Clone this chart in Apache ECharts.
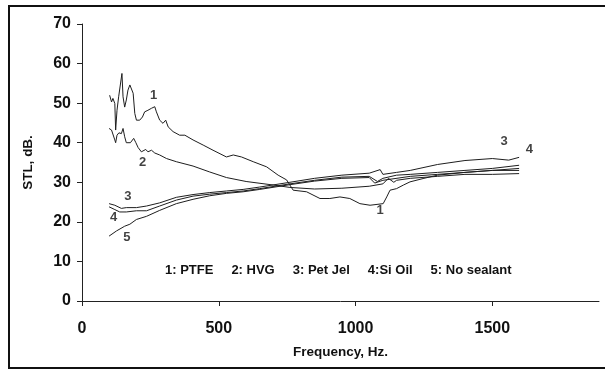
<!DOCTYPE html>
<html>
<head>
<meta charset="utf-8">
<script src="https://cdn.jsdelivr.net/npm/echarts@6/dist/echarts.min.js"></script>
<style>
  html, body { margin: 0; padding: 0; background: #fff; }
  #chart { width: 605px; height: 370px; }
</style>
</head>
<body>
<div id="chart"></div>
<script>
// Sound transmission loss (STL, dB) against frequency (Hz) for five sealants.
const seriesNames = ['1: PTFE', '2: HVG', '3: Pet Jel', '4:Si Oil', '5: No sealant'];

const xTicks = [0, 500, 1000, 1500];
const yTicks = [0, 10, 20, 30, 40, 50, 60, 70];

// [frequency, STL]
const ptfe = [
  [101, 52.0], [108, 50.3], [113, 51.2], [120, 49.9], [123, 43.2], [128, 48.2],
  [134, 51.6], [140, 51.2], [146, 57.5], [150, 51.6], [156, 49.0], [162, 50.8],
  [168, 53.3], [175, 54.6], [181, 54.8], [187, 52.5], [193, 47.4], [199, 45.7],
  [211, 45.7], [221, 46.5], [229, 47.8], [241, 48.2], [254, 48.7], [266, 49.1],
  [272, 47.8], [284, 45.7], [296, 44.9], [306, 45.7], [315, 44.0], [333, 42.8],
  [357, 41.9], [376, 41.9], [406, 40.7], [443, 39.4], [479, 38.1], [528, 36.4],
  [553, 36.9], [583, 36.4], [626, 35.2], [675, 33.9], [717, 31.8], [748, 30.6],
  [772, 28.0], [821, 27.6], [870, 25.9], [906, 25.9], [943, 26.3], [979, 25.9],
  [1016, 24.6], [1053, 24.2], [1101, 24.6], [1114, 26.3], [1126, 28.0], [1150, 28.4],
  [1175, 29.3], [1199, 30.1], [1250, 31.0], [1300, 31.8], [1400, 32.5], [1500, 33.0],
  [1598, 33.5]
];

const hvg = [
  [99, 43.6], [108, 43.2], [113, 42.8], [120, 40.7], [123, 40.0], [128, 41.9],
  [135, 42.5], [144, 42.3], [150, 43.6], [156, 41.5], [162, 40.0], [177, 40.0],
  [189, 41.1], [197, 40.0], [205, 38.8], [217, 37.7], [233, 38.3], [241, 37.7],
  [254, 38.1], [266, 37.4], [284, 36.9], [309, 36.0], [345, 35.2], [406, 34.1],
  [467, 32.6], [528, 31.2], [600, 30.2], [700, 29.3], [760, 28.7], [850, 28.3],
  [950, 28.5], [1050, 29.0], [1100, 29.6], [1120, 31.0], [1140, 30.0], [1150, 30.5],
  [1200, 31.0], [1300, 31.5], [1400, 32.0], [1500, 32.0], [1598, 32.2]
];

const petJel = [
  [99, 24.6], [120, 24.2], [144, 23.4], [162, 23.6], [199, 23.6], [236, 24.0],
  [284, 24.8], [345, 26.2], [406, 26.9], [467, 27.4], [528, 27.8], [589, 28.2],
  [650, 28.8], [760, 30.0], [850, 31.0], [950, 31.8], [1050, 32.3], [1090, 33.2],
  [1100, 32.0], [1150, 32.5], [1200, 33.0], [1300, 34.5], [1400, 35.5], [1500, 36.0],
  [1560, 35.6], [1598, 36.3]
];

const siOil = [
  [99, 23.8], [120, 23.1], [138, 22.5], [162, 22.5], [199, 22.8], [236, 22.8],
  [284, 24.0], [345, 25.5], [406, 26.5], [467, 27.0], [528, 27.4], [589, 27.8],
  [650, 28.4], [760, 29.6], [850, 30.5], [950, 31.3], [1050, 31.5], [1080, 30.2],
  [1100, 31.0], [1150, 31.8], [1200, 32.0], [1300, 32.5], [1400, 33.0], [1500, 33.5],
  [1598, 34.3]
];

const noSealant = [
  [99, 16.4], [126, 17.7], [156, 18.9], [175, 19.4], [199, 20.6], [236, 21.4],
  [284, 22.9], [345, 24.6], [406, 25.7], [467, 26.6], [528, 27.2], [589, 27.6],
  [650, 28.2], [760, 29.4], [850, 30.3], [950, 31.0], [1050, 31.2], [1070, 29.8],
  [1100, 30.5], [1200, 31.5], [1300, 32.0], [1400, 32.5], [1500, 33.0], [1598, 33.0]
];

// Curve number tags placed next to their lines: [frequency, STL, text]
const curveTags = [
  [262, 52, '1'], [1090, 23, '1'], [222, 35, '2'],
  [168, 26.5, '3'], [1543, 40.4, '3'],
  [116, 21, '4'], [1635, 38.4, '4'],
  [164, 16, '5']
];

const allSeries = [ptfe, hvg, petJel, siOil, noSealant];
const lineColor = '#1e1e1e';
const boldFont = 'Liberation Sans, Arial, sans-serif';

const chart = echarts.init(document.getElementById('chart'));

const series = allSeries.map((d, i) => ({
  name: seriesNames[i],
  type: 'line',
  data: d,
  showSymbol: false,
  symbol: 'none',
  smooth: false,
  lineStyle: { color: lineColor, width: 1 },
  itemStyle: { color: lineColor },
  emphasis: { disabled: true },
  animation: false
}));

series.push({
  name: 'tags',
  type: 'scatter',
  data: curveTags.map(t => ({ value: [t[0], t[1]], tag: t[2] })),
  symbolSize: 0,
  silent: true,
  label: {
    show: true,
    position: 'inside',
    formatter: p => p.data.tag,
    fontFamily: boldFont,
    fontWeight: 'bold',
    fontSize: 13,
    color: '#111'
  },
  animation: false
});

chart.setOption({
  backgroundColor: '#fff',
  animation: false,
  grid: { left: 82, top: 24, right: 6, bottom: 69 },
  legend: {
    data: seriesNames,
    left: 155,
    top: 259,
    itemWidth: 0,
    itemHeight: 0,
    itemGap: 13,
    icon: 'rect',
    selectedMode: false,
    textStyle: { fontFamily: boldFont, fontWeight: 'bold', fontSize: 13, color: '#111', padding: 0 }
  },
  xAxis: {
    type: 'value',
    min: 0,
    max: 1890,
    interval: 500,
    name: 'Frequency, Hz.',
    nameLocation: 'middle',
    nameGap: 44,
    nameTextStyle: { fontFamily: boldFont, fontWeight: 'bold', fontSize: 13.5, color: '#111' },
    axisLine: { show: true, lineStyle: { color: '#222', width: 1 } },
    axisTick: { show: true, length: 5, lineStyle: { color: '#222' }, customValues: xTicks },
    axisLabel: {
      customValues: xTicks, margin: 20, formatter: v => String(v),
      fontFamily: boldFont, fontWeight: 'bold', fontSize: 16, color: '#111'
    },
    splitLine: { show: false }
  },
  yAxis: {
    type: 'value',
    min: 0,
    max: 70,
    interval: 10,
    name: 'STL, dB.',
    nameLocation: 'middle',
    nameGap: 47,
    nameTextStyle: { fontFamily: boldFont, fontWeight: 'bold', fontSize: 13.5, color: '#111' },
    axisLine: { show: true, lineStyle: { color: '#222', width: 1 } },
    axisTick: { show: true, length: 5, lineStyle: { color: '#222' }, customValues: yTicks },
    axisLabel: {
      customValues: yTicks, margin: 11, formatter: v => String(v),
      fontFamily: boldFont, fontWeight: 'bold', fontSize: 16, color: '#111'
    },
    splitLine: { show: false }
  },
  graphic: [{
    type: 'rect',
    shape: { x: 9, y: 6, width: 640, height: 362 },
    style: { fill: null, stroke: '#111', lineWidth: 2 },
    silent: true,
    z: 100
  }],
  series: series
});
</script>
</body>
</html>
